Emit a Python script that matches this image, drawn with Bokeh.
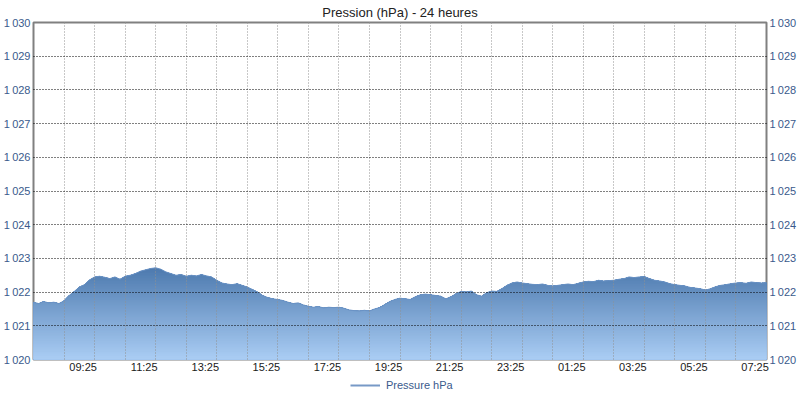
from bokeh.plotting import figure
from bokeh.layouts import column
from bokeh.models import FixedTicker, LinearAxis, Legend, LegendItem, Range1d
from bokeh.embed import file_html
from bokeh.resources import INLINE

# --- data -------------------------------------------------------------
# minutes since 07:25 (one reading every 10 minutes over 24 hours)
minutes = list(range(0, 24 * 60 + 1, 10))
pressure = [
    1021.70, 1021.66, 1021.72, 1021.68, 1021.70, 1021.66,
    1021.74, 1021.90, 1022.02, 1022.15, 1022.22, 1022.36,
    1022.45, 1022.47, 1022.44, 1022.40, 1022.45, 1022.38,
    1022.47, 1022.50, 1022.55, 1022.62, 1022.66, 1022.70,
    1022.72, 1022.68, 1022.60, 1022.55, 1022.50, 1022.52,
    1022.47, 1022.50, 1022.48, 1022.52, 1022.48, 1022.45,
    1022.35, 1022.27, 1022.24, 1022.22, 1022.25, 1022.20,
    1022.15, 1022.08, 1022.00, 1021.90, 1021.84, 1021.80,
    1021.78, 1021.75, 1021.70, 1021.66, 1021.68, 1021.62,
    1021.58, 1021.55, 1021.57, 1021.53, 1021.55, 1021.54,
    1021.55, 1021.52, 1021.47, 1021.45, 1021.44, 1021.46,
    1021.44, 1021.50, 1021.54, 1021.63, 1021.72, 1021.78,
    1021.82, 1021.80, 1021.78, 1021.86, 1021.92, 1021.94,
    1021.92, 1021.90, 1021.88, 1021.80, 1021.86, 1021.95,
    1022.02, 1022.00, 1022.03, 1021.92, 1021.88, 1021.98,
    1022.03, 1022.02, 1022.10, 1022.20, 1022.27, 1022.30,
    1022.27, 1022.25, 1022.23, 1022.22, 1022.24, 1022.20,
    1022.18, 1022.20, 1022.22, 1022.24, 1022.22, 1022.26,
    1022.30, 1022.32, 1022.31, 1022.35, 1022.33, 1022.34,
    1022.35, 1022.38, 1022.40, 1022.45, 1022.43, 1022.45,
    1022.46, 1022.40, 1022.35, 1022.33, 1022.30, 1022.25,
    1022.22, 1022.20, 1022.18, 1022.14, 1022.12, 1022.10,
    1022.06, 1022.10, 1022.16, 1022.20, 1022.22, 1022.25,
    1022.27, 1022.28, 1022.26, 1022.30, 1022.28, 1022.27,
    1022.28,
]
x_label_hours = [2, 4, 6, 8, 10, 12, 14, 16, 18, 20, 22, 24]
x_labels = ["09:25", "11:25", "13:25", "15:25", "17:25", "19:25",
            "21:25", "23:25", "01:25", "03:25", "05:25", "07:25"]
grid_hours = list(range(1, 24))
y_ticks = [1020, 1021, 1022, 1023, 1024, 1025, 1026, 1027, 1028, 1029, 1030]
y_labels = ["1\u2009020", "1\u2009021", "1\u2009022", "1\u2009023", "1\u2009024",
            "1\u2009025", "1\u2009026", "1\u2009027", "1\u2009028", "1\u2009029",
            "1\u2009030"]
series_name = "Pressure hPa"
title_text = "Pression (hPa) - 24 heures"

hours = [m / 60 for m in minutes]

FONT = "Liberation Sans"
LABEL_BLUE = "#3a5a8c"
LINE_COL = "#7799c6"

p = figure(frame_width=733, frame_height=337, output_backend="svg", toolbar_location=None,
           x_range=Range1d(0, 24), y_range=Range1d(1020, 1030),
           min_border_left=0, min_border_right=0, min_border_top=0, min_border_bottom=0)
p.background_fill_color = "white"
p.border_fill_color = "white"
p.outline_line_color = "#808080"
p.outline_line_width = 2

p.title.text = title_text
p.title.align = "center"
p.title.text_font = FONT
p.title.text_font_size = "13px"
p.title.text_font_style = "normal"
p.title.text_color = "#222222"
p.title.standoff = 5

# --- gradient area: bands drawn from the top colour downward -------------
def mix(c1, c2, t):
    a = [int(c1[i:i + 2], 16) for i in (1, 3, 5)]
    b = [int(c2[i:i + 2], 16) for i in (1, 3, 5)]
    return "#%02x%02x%02x" % tuple(round(a[k] + (b[k] - a[k]) * t) for k in range(3))

bottom_col = "#aacdf4"
top_col = "#4a77ac"
n_bands = 60
g_lo, g_hi = 1020.0, 1022.8
for k in range(n_bands - 1, -1, -1):
    top_k = g_lo + (g_hi - g_lo) * (k + 1) / n_bands
    col = mix(bottom_col, top_col, (k + 0.5) / n_bands)
    ytop = [min(v, top_k) if k < n_bands - 1 else v for v in pressure]
    p.varea(x=hours, y1=[1020] * len(hours), y2=ytop, fill_color=col, fill_alpha=1.0)

p.line(hours, pressure, line_color="#6a92c4", line_width=1)

# --- grids --------------------------------------------------------------
p.xgrid.ticker = FixedTicker(ticks=grid_hours)
p.xgrid.grid_line_color = "#909090"
p.xgrid.grid_line_dash = "1 2"
p.xgrid.grid_line_width = 1
p.xgrid.level = "overlay"
p.ygrid.ticker = FixedTicker(ticks=y_ticks[1:-1])
p.ygrid.grid_line_color = "#000000"
p.ygrid.grid_line_dash = "1 2"
p.ygrid.grid_line_width = 1
p.ygrid.level = "overlay"

# --- axes ---------------------------------------------------------------
shift = 0.375
xt = [h - shift for h in x_label_hours]
xa = p.xaxis[0]
xa.ticker = FixedTicker(ticks=xt)
xa.major_label_overrides = {t: lab for t, lab in zip(xt, x_labels)}
xa.axis_line_color = None
xa.major_tick_line_color = None
xa.minor_tick_line_color = None
xa.major_tick_out = 0
xa.major_tick_in = 0
xa.minor_tick_out = 0
xa.minor_tick_in = 0
xa.major_label_standoff = 1
xa.major_label_text_font = FONT
xa.major_label_text_font_size = "11px"
xa.major_label_text_color = "#1a1a1a"

def style_y(ax):
    ax.ticker = FixedTicker(ticks=y_ticks)
    ax.major_label_overrides = {t: lab for t, lab in zip(y_ticks, y_labels)}
    ax.axis_line_color = None
    ax.major_tick_line_color = None
    ax.minor_tick_line_color = None
    ax.major_tick_out = 0
    ax.major_tick_in = 0
    ax.minor_tick_out = 0
    ax.minor_tick_in = 0
    ax.major_label_standoff = 3
    ax.major_label_text_font = FONT
    ax.major_label_text_font_size = "11px"
    ax.major_label_text_color = LABEL_BLUE

style_y(p.yaxis[0])
ra = LinearAxis()
style_y(ra)
p.add_layout(ra, "right")

# --- legend strip below the chart ----------------------------------------
# the series is plotted here outside the visible range, only to feed the legend
lg = figure(width=786, height=17, output_backend="svg", toolbar_location=None,
            x_range=Range1d(0, 24), y_range=Range1d(0, 1),
            x_axis_type=None, y_axis_type=None,
            min_border_left=0, min_border_right=0, min_border_top=0, min_border_bottom=0)
lg.outline_line_color = None
lg.background_fill_color = "white"
lg.border_fill_color = "white"
legend_r = lg.line(hours, pressure, line_color=LINE_COL, line_width=2)
legend = Legend(items=[LegendItem(label=series_name, renderers=[legend_r])],
                orientation="horizontal", location=(317, 1),
                border_line_color=None, background_fill_alpha=0,
                padding=0, margin=0, spacing=0,
                glyph_width=30, glyph_height=12, label_height=12,
                label_standoff=6, label_text_font=FONT,
                label_text_font_size="11px", label_text_color=LABEL_BLUE)
lg.add_layout(legend, "center")

layout = column(p, lg, spacing=0)
open("out.html", "w").write(file_html(layout, INLINE))
